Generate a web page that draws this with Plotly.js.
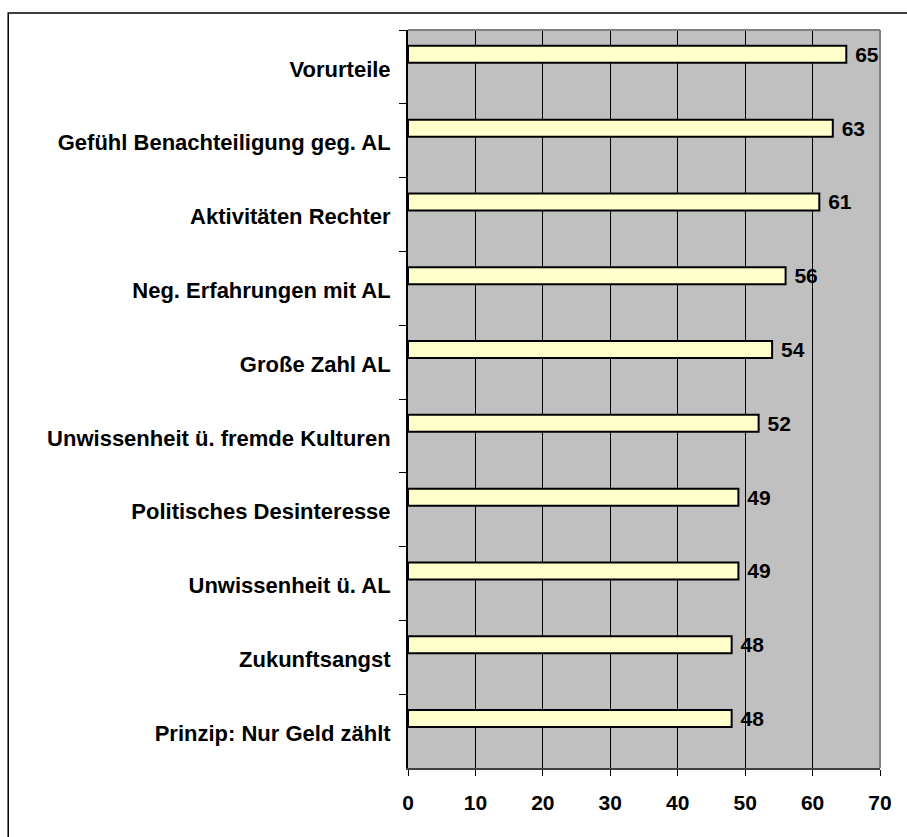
<!DOCTYPE html>
<html>
<head>
<meta charset="utf-8">
<script src="https://cdn.plot.ly/plotly-3.0.1.min.js"></script>
<style>html,body{margin:0;padding:0;background:#fff;}#chart{width:907px;height:837px;}</style>
</head>
<body>
<div id="chart"></div>
<script>
const categories = [
  "Vorurteile",
  "Gefühl Benachteiligung geg. AL",
  "Aktivitäten Rechter",
  "Neg. Erfahrungen mit AL",
  "Große Zahl AL",
  "Unwissenheit ü. fremde Kulturen",
  "Politisches Desinteresse",
  "Unwissenheit ü. AL",
  "Zukunftsangst",
  "Prinzip: Nur Geld zählt"
];
const values = [65, 63, 61, 56, 54, 52, 49, 49, 48, 48];
const xTicks = [0, 10, 20, 30, 40, 50, 60, 70];

const font = "Arial, 'Liberation Sans', sans-serif";

const trace = {
  type: "bar",
  orientation: "h",
  y: categories,
  x: values,
  width: 0.23,
  offset: -0.285,
  marker: {color: "#FFFFCC", line: {color: "#000000", width: 2}},
  text: values.map(v => " " + v),
  textposition: "outside",
  constraintext: "none",
  cliponaxis: false,
  textfont: {family: font, size: 21, color: "#000", weight: "bold"},
  hoverinfo: "skip"
};

const layout = {
  width: 907,
  height: 837,
  margin: {l: 408, r: 27, t: 30, b: 69},
  paper_bgcolor: "#ffffff",
  plot_bgcolor: "#C0C0C0",
  showlegend: false,
  font: {family: font, color: "#000"},
  xaxis: {
    range: [0, 70],
    tickvals: xTicks,
    ticktext: xTicks.map(String),
    showgrid: true,
    gridcolor: "#000000",
    gridwidth: 1,
    zeroline: false,
    showline: true,
    linecolor: "#404040",
    linewidth: 2,
    ticks: "outside",
    ticklen: 6,
    tickcolor: "#000",
    tickwidth: 1,
    ticklabelstandoff: 9,
    tickfont: {family: font, size: 21, color: "#000", weight: "bold"},
    fixedrange: true
  },
  yaxis: {
    type: "category",
    autorange: "reversed",
    tickson: "boundaries",
    ticks: "outside",
    ticklen: 7,
    tickcolor: "#000",
    tickwidth: 1,
    showgrid: false,
    showline: true,
    linecolor: "#000",
    linewidth: 2,
    ticklabelstandoff: 11,
    ticklabelshift: -2,
    tickfont: {family: font, size: 22, color: "#000", weight: "bold"},
    fixedrange: true
  },
  shapes: [
    {type: "line", xref: "paper", yref: "paper", x0: 0, x1: 1, y0: 1, y1: 1, line: {color: "#808080", width: 2}},
    {type: "line", xref: "paper", yref: "paper", x0: 1, x1: 1, y0: 0, y1: 1, line: {color: "#808080", width: 2}},
    {type: "rect", xref: "paper", yref: "paper", x0: -0.847, x1: 1.2, y0: -0.2, y1: 1.023, line: {color: "#000", width: 1.5}, fillcolor: "rgba(0,0,0,0)"}
  ]
};

Plotly.newPlot("chart", [trace], layout, {displayModeBar: false, staticPlot: true});
</script>
</body>
</html>
